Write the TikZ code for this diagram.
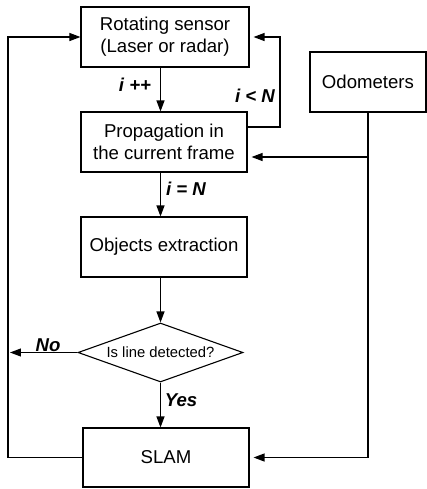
\documentclass[tikz,border=0pt]{standalone}
\usepackage{fontspec}
\setmainfont{Liberation Sans}
\usetikzlibrary{arrows.meta,shapes.geometric}

\begin{document}
\begin{tikzpicture}[x=0.5pt, y=-0.5pt, line width=0.55pt,
	every node/.style={font=\fontsize{9.3}{11}\selectfont, align=center},
	box/.style={rectangle, draw=black, minimum height=30pt, inner sep=1pt},
	lbl/.style={font=\fontsize{9.3}{11}\selectfont\bfseries\itshape, inner sep=0pt},
	ask/.style={diamond, draw=black, aspect=2.8, minimum width=82.5pt, minimum height=29.5pt, inner sep=0.5pt, font=\fontsize{7.4}{9}\selectfont},
	>={Triangle[length=5.5pt, width=4pt]}]
				\useasboundingbox (0,0) rectangle (427,489);
				\node[box, minimum width=84pt] (sensor) at (165,37) {Rotating sensor\\(Laser or radar)};
				\node[box, minimum width=58pt] (odo) at (368,82) {Odometers};
				\node[box, minimum width=83pt] (prop) at (164,142) {Propagation in\\the current frame};
				\node[box, minimum width=83pt] (obj) at (164,247) {Objects extraction};
				\node[ask] (dec) at (160.5,352.5) {Is line detected?};
				\node[box, minimum width=83pt, minimum height=29.5pt] (slam) at (166,457.5) {SLAM};
				
				\coordinate (lft) at (8,0);
				\coordinate (rgt) at (280,0);
				\coordinate (pout) at ([yshift=7.5pt]prop.east);
				\coordinate (pin) at ([yshift=-7.5pt]prop.east);
				
				\node[lbl] (inc) at (135,85) {i ++};
				\node[lbl] (less) at (255,96) {i < N};
				\node[lbl] (eq) at (186,189) {i = N};
				\node[lbl] (no) at (48,345) {No};
				\node[lbl] (yes) at (181,400) {Yes};
				
				\draw[->] (sensor.south -| dec) -- (prop.north -| dec);
				\draw[->] (prop.south -| dec) -- (obj.north -| dec);
				\draw[->] (obj.south -| dec) -- (dec.north);
				\draw[->] (dec.south) -- (slam.north -| dec);
				\draw[->] (dec.west) -- ([xshift=1pt]dec.west -| lft);
				\draw[->] (slam.west) -| (lft |- sensor.west) -- (sensor.west);
				\draw[->] (pout) -| (rgt |- sensor.east) -- ([xshift=2pt]sensor.east);
				\draw (odo.south) -- (odo.south |- slam.east);
				\draw[->] (odo.south |- pin) -- ([xshift=2pt]pin);
				\draw[->] (odo.south |- slam.east) -- ([xshift=2pt]slam.east);
\end{tikzpicture}
\end{document}
